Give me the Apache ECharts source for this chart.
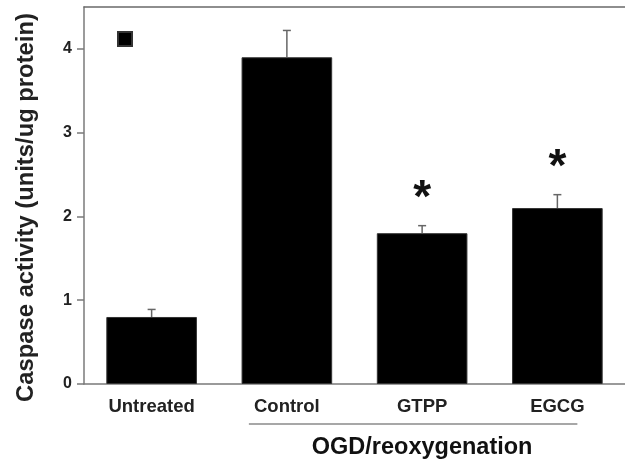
<!DOCTYPE html>
<html>
<head>
<meta charset="utf-8">
<script src="https://cdn.jsdelivr.net/npm/echarts@6/dist/echarts.min.js"></script>
<style>
html,body{margin:0;padding:0;background:#fff;}
#chart{width:625px;height:464px;}
</style>
</head>
<body>
<div id="chart"></div>
<script>
const categories = ['Untreated', 'Control', 'GTPP', 'EGCG'];
const means = [0.80, 3.90, 1.80, 2.10];
const errors = [0.09, 0.32, 0.09, 0.16];
const significance = ['', '', '*', '*'];
const yTicks = [0, 1, 2, 3, 4];
const groupLabel = 'OGD/reoxygenation';
const yTitle = 'Caspase activity (units/ug protein)';

const FONT = '"Liberation Sans", Arial, sans-serif';
const chart = echarts.init(document.getElementById('chart'));

const errData = categories.map((c, i) => [i, means[i], errors[i]]);

chart.setOption({
  backgroundColor: '#fff',
  animation: false,
  grid: { left: 84, top: 7, right: -3, bottom: 80, containLabel: false },
  legend: {
    data: [{ name: 'Caspase', icon: 'rect' }],
    left: 117, top: 31, padding: 0,
    itemWidth: 14, itemHeight: 14,
    formatter: () => '',
    selectedMode: false
  },
  xAxis: [{
    type: 'category',
    data: categories,
    position: 'bottom',
    axisLine: { lineStyle: { color: '#7a7a7a', width: 1.5 } },
    axisTick: { alignWithLabel: true, length: 8, lineStyle: { color: '#7a7a7a', width: 1.5 } },
    axisLabel: { margin: 13, color: '#222', fontFamily: FONT, fontWeight: 'bold', fontSize: 18.5 }
  }, {
    type: 'category',
    data: categories,
    position: 'top',
    axisLine: { lineStyle: { color: '#6a6a6a', width: 1.5 } },
    axisTick: { show: false },
    axisLabel: { show: false }
  }],
  yAxis: {
    type: 'value',
    min: 0, max: 4.5, interval: 1,
    splitLine: { show: false },
    axisLine: { show: true, lineStyle: { color: '#7a7a7a', width: 1.5 } },
    axisTick: { show: true, length: 7, customValues: yTicks, lineStyle: { color: '#7a7a7a', width: 1.5 } },
    axisLabel: { margin: 12, customValues: yTicks, color: '#222', fontFamily: FONT, fontWeight: 'bold', fontSize: 16 },
    name: yTitle,
    nameLocation: 'middle',
    nameGap: 46,
    nameTextStyle: { color: '#222', fontFamily: FONT, fontWeight: 'bold', fontSize: 23.8, padding: [0, 24, 0, 0] }
  },
  series: [{
    name: 'Caspase',
    type: 'bar',
    data: means,
    barWidth: '67%',
    itemStyle: { color: '#000', borderColor: '#333', borderWidth: 1 },
    z: 2
  }, {
    name: 'err',
    type: 'custom',
    data: errData,
    z: 3,
    renderItem: function (params, api) {
      const i = api.value(0), m = api.value(1), e = api.value(2);
      const base = api.coord([i, m]);
      const top = api.coord([i, m + e]);
      const cap = 4;
      const children = [
        { type: 'line', shape: { x1: base[0], y1: base[1], x2: top[0], y2: top[1] }, style: { stroke: '#666', lineWidth: 1.5 } },
        { type: 'line', shape: { x1: top[0] - cap, y1: top[1], x2: top[0] + cap, y2: top[1] }, style: { stroke: '#666', lineWidth: 1.5 } }
      ];
      const s = significance[params.dataIndex];
      if (s) {
        children.push({
          type: 'text',
          style: {
            text: s, x: top[0], y: top[1] - 49,
            align: 'center', verticalAlign: 'top',
            fill: '#111', font: 'bold 46px ' + FONT
          }
        });
      }
      return { type: 'group', children: children };
    }
  }]
});

function placeGroup() {
  const x1 = chart.convertToPixel({ xAxisIndex: 0 }, categories[1]) - 38;
  const x2 = chart.convertToPixel({ xAxisIndex: 0 }, categories[3]) + 20;
  const xc = chart.convertToPixel({ xAxisIndex: 0 }, categories[2]);
  const y0 = chart.convertToPixel({ yAxisIndex: 0 }, 0);
  chart.setOption({
    graphic: [{
      type: 'line',
      shape: { x1: x1, y1: y0 + 40, x2: x2, y2: y0 + 40 },
      style: { stroke: '#8a8a8a', lineWidth: 1.5 }
    }, {
      type: 'text',
      x: xc, y: y0 + 64,
      style: { text: groupLabel, align: 'center', verticalAlign: 'middle', fill: '#111', font: 'bold 23.5px ' + FONT }
    }]
  });
}
placeGroup();
</script>
</body>
</html>
